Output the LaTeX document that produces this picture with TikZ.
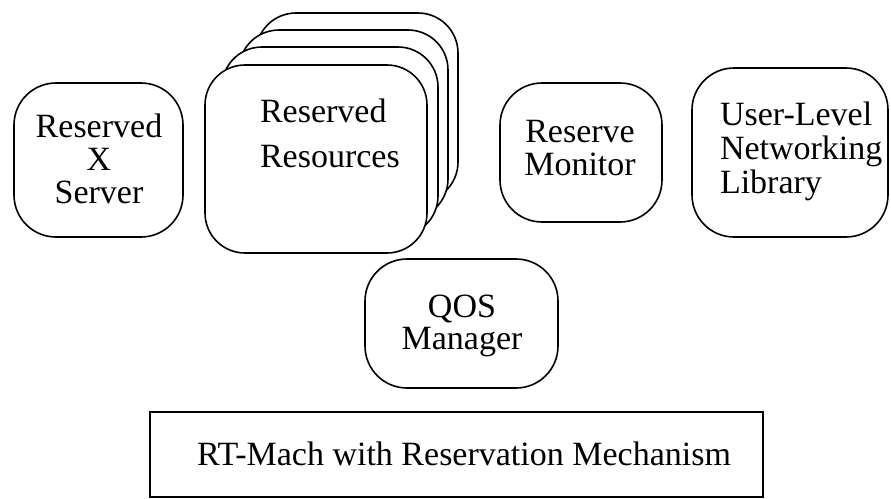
\documentclass[tikz,border=0pt]{standalone}
\usepackage{fontspec}
\setmainfont{Liberation Serif}
\begin{document}
\begin{tikzpicture}[x=1pt,y=-1pt,
  box/.style={draw, line width=1.6pt, rounded corners=42pt, fill=white, inner sep=0pt, outer sep=0pt},
  layerbox/.style={draw, line width=1.6pt, fill=white, inner sep=0pt, outer sep=0pt},
  lbl/.style={font=\rmfamily\fontsize{34}{33}\selectfont, inner sep=0pt, outer sep=0pt}]
\useasboundingbox (0,0) rectangle (891,498);

% Reserved X Server
\node[box, minimum width=169pt, minimum height=154pt] (xsrv) at (98.5,160) {};
\node[lbl, align=center] (xsrvt) at (99,159) {Reserved\\X\\Server};

% Reserved Resources (stack, back to front)
\node[box, rounded corners=40pt, minimum width=202pt, minimum height=189pt] (res3) at (357,107.5) {};
\node[box, rounded corners=40pt, minimum width=209pt, minimum height=189pt] (res2) at (343.5,124.5) {};
\node[box, rounded corners=40pt, minimum width=216pt, minimum height=189pt] (res1) at (330,141.5) {};
\node[box, rounded corners=40pt, minimum width=222pt, minimum height=188pt] (res0) at (316,159) {};
\node[lbl, align=left, font=\rmfamily\fontsize{34}{45}\selectfont, anchor=west] (rest) at (260,133) {Reserved\\Resources};

% Reserve Monitor
\node[box, minimum width=162pt, minimum height=139pt] (mon) at (581,152.5) {};
\node[lbl, align=center] (mont) at (580,148.5) {Reserve\\Monitor};

% User-Level Networking Library
\node[box, minimum width=196pt, minimum height=169pt] (ulib) at (790,152.5) {};
\node[lbl, align=left, font=\rmfamily\fontsize{34}{34}\selectfont, anchor=west] (ulibt) at (720,151) {User-Level\\Networking\\Library};

% QOS Manager
\node[box, minimum width=193pt, minimum height=129pt] (qos) at (461.5,323.5) {};
\node[lbl, align=center, font=\rmfamily\fontsize{34}{32}\selectfont] (qost) at (462,326) {QOS\\Manager};

% RT-Mach layer
\node[layerbox, minimum width=613pt, minimum height=85pt] (rt) at (456.5,454.5) {};
\node[lbl, anchor=base west] (rtt) at (197,465) {RT-Mach with Reservation Mechanism};
\end{tikzpicture}
\end{document}
